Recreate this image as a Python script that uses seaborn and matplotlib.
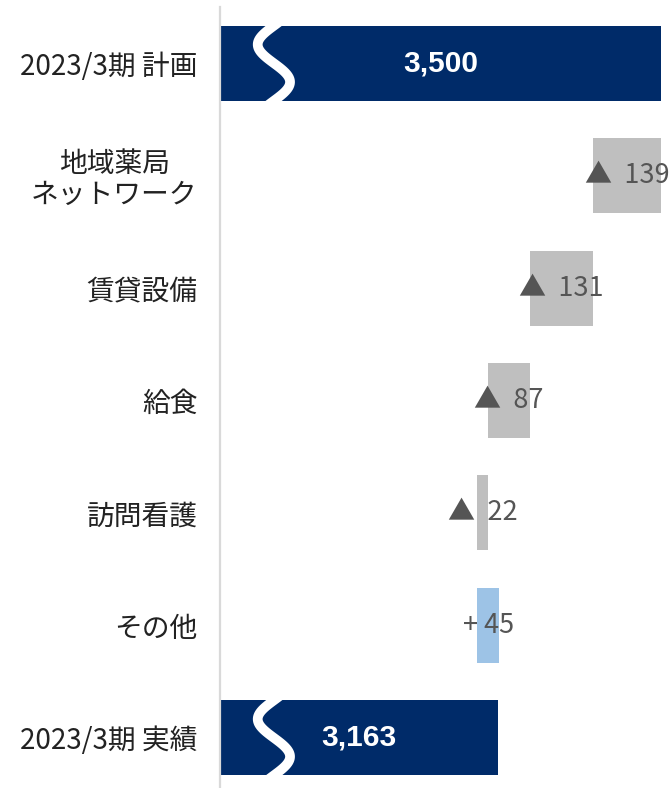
import numpy as np
import pandas as pd
import matplotlib
matplotlib.use("Agg")
import matplotlib.pyplot as plt
import matplotlib.transforms as mtransforms
import seaborn as sns

# --- data -------------------------------------------------------------
categories = ["2023/3期 計画", "地域薬局\nネットワーク", "賃貸設備", "給食",
              "訪問看護", "その他", "2023/3期 実績"]
plan_total = 3500
actual_total = 3163
change_values = [-139, -131, -87, -22, 45]
total_labels = ["3,500", "3,163"]
change_labels = ["▲  139", "▲  131", "▲  87", "▲  22", "+ 45"]

# --- styling ------------------------------------------------------------
sns.set_theme(style="white")
plt.rcParams["font.family"] = ["Noto Sans CJK JP", "DejaVu Sans"]

NAVY = "#002b69"
GREY = "#bfbfbf"
BLUE = "#9dc3e6"
AXIS_MIN, AXIS_MAX = 2590, 3517

# waterfall extents
starts, ends, colors = [AXIS_MIN], [plan_total], [NAVY]
running = plan_total
for d in change_values:
    new = running + d
    starts.append(min(running, new))
    ends.append(max(running, new))
    colors.append(GREY if d < 0 else BLUE)
    running = new
starts.append(AXIS_MIN)
ends.append(actual_total)
colors.append(NAVY)

df = pd.DataFrame({"item": categories, "end": ends})

fig = plt.figure(figsize=(6.69, 7.88), dpi=100)
ax = fig.add_axes([220 / 669, -6 / 788, 449 / 669, 787 / 788])

sns.barplot(data=df, x="end", y="item", hue="item", palette=colors,
            legend=False, orient="h", width=0.667, saturation=1,
            linewidth=0, ax=ax)

# turn the bars into floating waterfall segments
for patch, s, e in zip(ax.patches, starts, ends):
    patch.set_x(s)
    patch.set_width(e - s)

ax.set_xlim(AXIS_MIN, AXIS_MAX)
ax.set_ylim(6.5, -0.5)
ax.set_xlabel("")
ax.set_ylabel("")
ax.set_xticks([])

for side in ["top", "right", "bottom"]:
    ax.spines[side].set_visible(False)
ax.spines["left"].set_color("#d9d9d9")
ax.spines["left"].set_linewidth(1.6)

ax.tick_params(axis="y", length=0, pad=16)
for lbl in ax.get_yticklabels():
    lbl.set_fontsize(20)
    lbl.set_color("#222222")
    lbl.set_multialignment("center")
    lbl.set_linespacing(1.05)

# totals: white bold numbers centred on the bar
for row, (s, e, txt) in zip([0, 6], [(starts[0], ends[0], total_labels[0]),
                                      (starts[-1], ends[-1], total_labels[1])]):
    ax.text((s + e) / 2, row, txt, ha="center", va="center", color="white",
            fontsize=21.5, fontweight="bold",
            family=["Liberation Sans", "DejaVu Sans"], zorder=4)

# changes: labels centred on each segment
for i, txt in enumerate(change_labels, start=1):
    ax.text((starts[i] + ends[i]) / 2, i, txt, ha="center", va="center",
            color="#555555", fontsize=19.5, zorder=4)

# axis-break squiggles on the two total bars
trans = mtransforms.blended_transform_factory(ax.transAxes, ax.transData)
t = np.linspace(-0.15, 1.15, 80)
for row in [0, 6]:
    xs = 0.12 - 0.036 * np.sin(2 * np.pi * t)
    ys = row - 0.333 + 0.667 * t
    ax.plot(xs, ys, color="white", lw=7, transform=trans, zorder=3,
            solid_capstyle="butt")

fig.savefig("out.png", dpi=100, facecolor="white")
